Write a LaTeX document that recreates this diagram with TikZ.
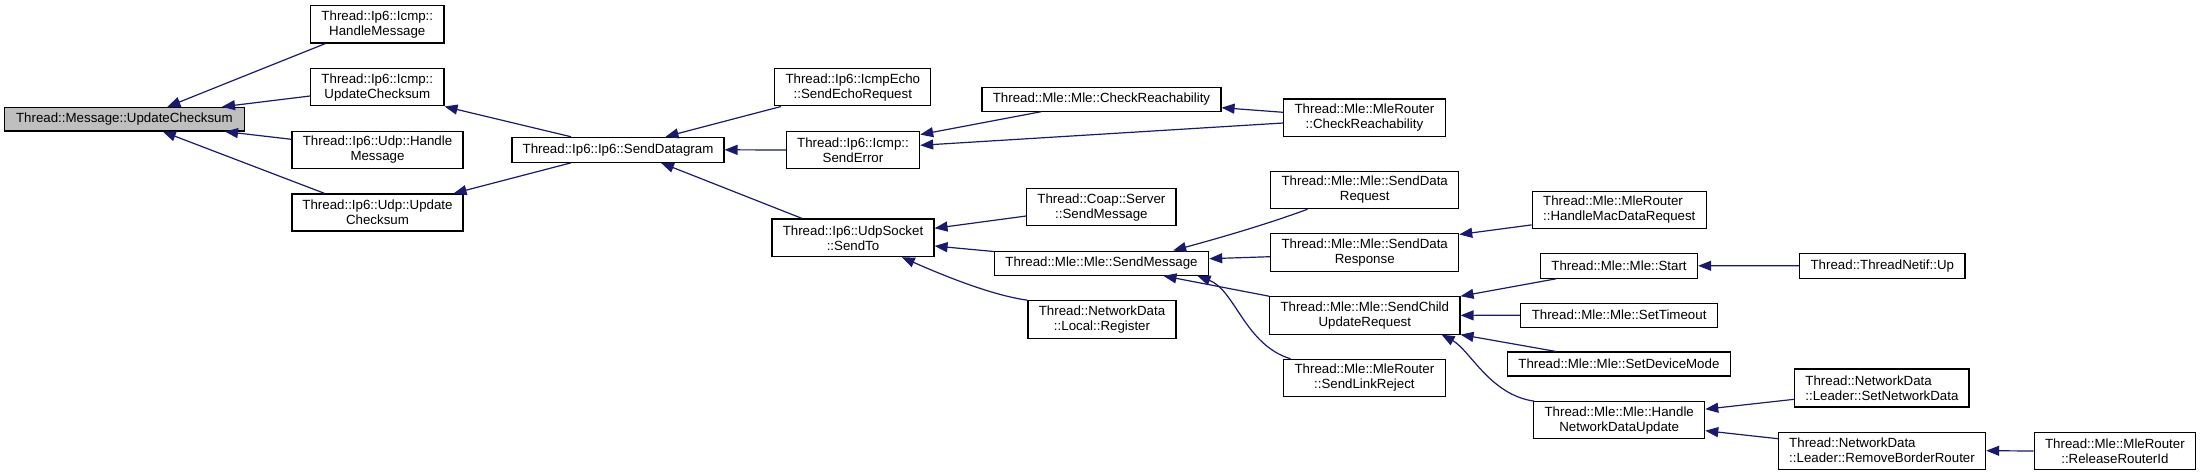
\documentclass[tikz,border=0pt]{standalone}
\usepackage{fontspec}
\setmainfont{Liberation Sans}
\usetikzlibrary{arrows.meta}
\definecolor{edgeblue}{HTML}{191970}
\definecolor{mainfill}{HTML}{BFBFBF}
\begin{document}
\begin{tikzpicture}[x=1pt,y=-1pt,
  box/.style={draw=black,line width=1.1pt,rectangle,inner sep=0pt,align=center,fill=white,
    font=\fontsize{13.3}{15}\selectfont},
  lbox/.style={box,align=left},
  mainbox/.style={box,fill=mainfill},
  callarrow/.style={draw=edgeblue,line width=1.2pt,{Triangle[length=13pt,width=10pt]}-}
]
\useasboundingbox (0,0) rectangle (2201,476);
% nodes
\node[mainbox,minimum width=239.3pt,minimum height=23.7pt] (main) at (124.4,119.2) {Thread::Message::UpdateChecksum};
\node[box,minimum width=133.4pt,minimum height=37.7pt] (icmpHM) at (377.3,24.2) {Thread::Ip6::Icmp::\\HandleMessage};
\node[box,minimum width=133.4pt,minimum height=37.3pt] (icmpUC) at (377.3,87.3) {Thread::Ip6::Icmp::\\UpdateChecksum};
\node[box,minimum width=171pt,minimum height=37.4pt] (udpHM) at (377.5,150) {Thread::Ip6::Udp::Handle\\Message};
\node[box,minimum width=171pt,minimum height=37pt] (udpUC) at (377.5,212.5) {Thread::Ip6::Udp::Update\\Checksum};
\node[box,minimum width=212pt,minimum height=25pt] (sendDG) at (618,149.8) {Thread::Ip6::Ip6::SendDatagram};
\node[box,minimum width=156pt,minimum height=37.3pt] (echo) at (852.8,87.3) {Thread::Ip6::IcmpEcho\\::SendEchoRequest};
\node[box,minimum width=133.3pt,minimum height=37.7pt] (sendErr) at (853,150) {Thread::Ip6::Icmp::\\SendError};
\node[box,minimum width=162pt,minimum height=37.7pt] (sendTo) at (853,237.8) {Thread::Ip6::UdpSocket\\::SendTo};
\node[box,minimum width=239pt,minimum height=24pt] (mleCR) at (1101.5,99.2) {Thread::Mle::Mle::CheckReachability};
\node[box,minimum width=161.3pt,minimum height=37.3pt] (mrCR) at (1364.4,117.7) {Thread::Mle::MleRouter\\::CheckReachability};
\node[box,minimum width=149.2pt,minimum height=37pt] (coapSM) at (1101.4,207.2) {Thread::Coap::Server\\::SendMessage};
\node[box,minimum width=214.3pt,minimum height=24.3pt] (mleSM) at (1101.5,263.2) {Thread::Mle::Mle::SendMessage};
\node[box,minimum width=148pt,minimum height=37.3pt] (ndReg) at (1102,319.4) {Thread::NetworkData\\::Local::Register};
\node[box,minimum width=188pt,minimum height=37.4pt] (sdReq) at (1364.7,190) {Thread::Mle::Mle::SendData\\Request};
\node[box,minimum width=188pt,minimum height=37.3pt] (sdResp) at (1364.7,252.4) {Thread::Mle::Mle::SendData\\Response};
\node[box,minimum width=190.4pt,minimum height=37.3pt] (scur) at (1364.8,315.4) {Thread::Mle::Mle::SendChild\\UpdateRequest};
\node[box,minimum width=161.3pt,minimum height=37.4pt] (linkRej) at (1364.4,378) {Thread::Mle::MleRouter\\::SendLinkReject};
\node[lbox,minimum width=174.2pt,minimum height=37.7pt] (macReq) at (1619.3,209.9) {Thread::Mle::MleRouter\\::HandleMacDataRequest};
\node[box,minimum width=157.2pt,minimum height=25pt] (start) at (1619,265.8) {Thread::Mle::Mle::Start};
\node[box,minimum width=165.4pt,minimum height=24.7pt] (up) at (1882.3,265.7) {Thread::ThreadNetif::Up};
\node[box,minimum width=197pt,minimum height=24.3pt] (setTO) at (1619.1,315.2) {Thread::Mle::Mle::SetTimeout};
\node[box,minimum width=223.7pt,minimum height=24pt] (setDM) at (1618.9,364) {Thread::Mle::Mle::SetDeviceMode};
\node[box,minimum width=171pt,minimum height=37pt] (hndu) at (1619.2,420.2) {Thread::Mle::Mle::Handle\\NetworkDataUpdate};
\node[lbox,minimum width=174.2pt,minimum height=38pt] (setND) at (1881.9,388) {Thread::NetworkData\\::Leader::SetNetworkData};
\node[lbox,minimum width=207.3pt,minimum height=36.7pt] (rbr) at (1882,450.7) {Thread::NetworkData\\::Leader::RemoveBorderRouter};
\node[box,minimum width=161.7pt,minimum height=37.4pt] (rrid) at (2114.9,451) {Thread::Mle::MleRouter\\::ReleaseRouterId};
% edges (arrow at the callee)
\draw[callarrow] ([xshift=43pt]main.north) -- ([xshift=-52pt]icmpHM.south);
\draw[callarrow] ([xshift=97.6pt]main.north) -- ([yshift=-8.7pt]icmpUC.west);
\draw[callarrow] ([xshift=100.6pt]main.south) -- ([yshift=10.7pt]udpHM.west);
\draw[callarrow] ([xshift=38.4pt]main.south) -- ([xshift=-52.8pt]udpUC.north);
\draw[callarrow] (icmpUC.south east) -- ([xshift=-47pt]sendDG.north);
\draw[callarrow] ([xshift=-10pt]udpUC.north east) -- ([xshift=-47pt]sendDG.south);
\draw[callarrow] ([xshift=47.5pt]sendDG.north) -- ([xshift=6.8pt]echo.south west);
\draw[callarrow] (sendDG.east) -- (sendErr.west);
\draw[callarrow] ([xshift=43pt]sendDG.south) -- ([xshift=30.5pt]sendTo.north west);
\draw[callarrow] ([yshift=-4pt]sendErr.north east) -- ([xshift=-60.6pt]mleCR.south);
\draw[callarrow] ([yshift=4.7pt]sendErr.east) -- ([yshift=-5.3pt]mrCR.west);
\draw[callarrow] ([yshift=-8.5pt]mleCR.east) -- ([yshift=5.4pt]mrCR.west);
\draw[callarrow] ([yshift=9.5pt]sendTo.east) -- ([yshift=-8.8pt]coapSM.west);
\draw[callarrow] ([yshift=-8.2pt]sendTo.east) -- ([yshift=-1pt]mleSM.north west);
\draw[callarrow] ([xshift=48.8pt]sendTo.south) .. controls (940,274) and (990,295) .. (ndReg.north west);
\draw[callarrow] ([xshift=71.7pt]mleSM.north) .. controls (1212,240) and (1262,226) .. ([xshift=-57.2pt]sdReq.south);
\draw[callarrow] ([yshift=4.5pt]mleSM.east) -- ([yshift=-4.3pt]sdResp.west);
\draw[callarrow] ([xshift=62pt]mleSM.south) -- (scur.north west);
\draw[callarrow] ([xshift=96pt]mleSM.south) .. controls (1235,290) and (1245,345) .. ([xshift=7.3pt]linkRej.north west);
\draw[callarrow] ([yshift=-1.3pt]sdResp.north east) -- ([yshift=4.4pt]macReq.south west);
\draw[callarrow] (scur.north east) -- ([xshift=16pt]start.south west);
\draw[callarrow] (scur.east) -- (setTO.west);
\draw[callarrow] (scur.south east) -- ([xshift=49.5pt]setDM.north west);
\draw[callarrow] ([xshift=-19pt]scur.south east) .. controls (1470,350) and (1490,395) .. ([xshift=1pt]hndu.north west);
\draw[callarrow] (start.east) -- (up.west);
\draw[callarrow] ([yshift=11pt]hndu.east) -- ([yshift=-11.3pt]setND.west);
\draw[callarrow] ([yshift=-10.5pt]hndu.east) -- ([yshift=12pt]rbr.west);
\draw[callarrow] (rbr.east) -- (rrid.west);
\end{tikzpicture}
\end{document}
